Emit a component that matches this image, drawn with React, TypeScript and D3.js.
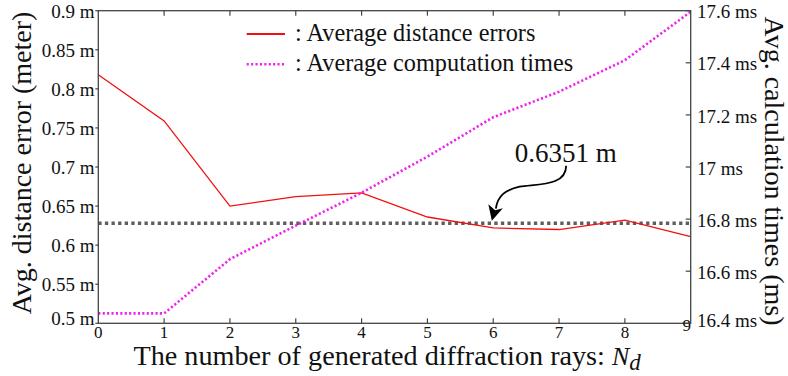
import React from "react";
import * as d3 from "d3";

const raysN = [0, 1, 2, 3, 4, 5, 6, 7, 8, 9];
const distanceErrors = [0.818, 0.759, 0.650, 0.662, 0.667, 0.636, 0.622, 0.620, 0.632, 0.611];
const computationTimes = [16.438, 16.438, 16.646, 16.775, 16.901, 17.04, 17.191, 17.289, 17.41, 17.596];
const referenceError = 0.628;
const referenceLabel = "0.6351 m";
const leftTicks = [0.5, 0.55, 0.6, 0.65, 0.7, 0.75, 0.8, 0.85, 0.9];
const leftTickLabels = ["0.5 m", "0.55 m", "0.6 m", "0.65 m", "0.7 m", "0.75 m", "0.8 m", "0.85 m", "0.9 m"];
const rightTicks = [16.4, 16.6, 16.8, 17.0, 17.2, 17.4, 17.6];
const rightTickLabels = ["16.4 ms", "16.6 ms", "16.8 ms", "17 ms", "17.2 ms", "17.4 ms", "17.6 ms"];
const xTickLabels = ["0", "1", "2", "3", "4", "5", "6", "7", "8", "9"];
const legendLabels = [": Average distance errors", ": Average computation times"];

const W = 788, H = 376;
const L = 98.3, R = 690.7, T = 10.7, B = 323.3;
const FONT = `"Liberation Serif"`;
const AX = "#444";

export default function App() {
  const x = d3.scaleLinear().domain([0, 9]).range([L, R]);
  const yL = d3.scaleLinear().domain([0.5, 0.9]).range([B, T]);
  const yR = d3.scaleLinear().domain([16.4, 17.6]).range([B, T]);

  const errLine = d3.line<number>().x((_, i) => x(raysN[i])).y((d) => yL(d))(distanceErrors) || "";
  const timeLine = d3.line<number>().x((_, i) => x(raysN[i])).y((d) => yR(d))(computationTimes) || "";

  const refY = yL(referenceError);
  const tipX = x(6) - 1.4;
  const tipY = refY - 2.6;
  const textX = x(7.1);
  const textY = tipY - 59;
  const ts = { fontFamily: FONT };

  return (
    <svg width={W} height={H} style={{ position: "absolute", left: 0, top: 0, display: "block", background: "#fff" }}>
      {/* reference line */}
      <line x1={L} x2={R} y1={refY} y2={refY} stroke="#5e5e5e" strokeWidth={3.3} strokeDasharray="3.3,3.3" />
      {/* series */}
      <path d={errLine} fill="none" stroke="#f01010" strokeWidth={1.3} />
      <path d={timeLine} fill="none" stroke="#f020f0" strokeWidth={2.6} strokeDasharray="2.1,2.3" />

      {/* frame */}
      <rect x={L} y={T} width={R - L} height={B - T} fill="none" stroke={AX} strokeWidth={1.3} />

      {/* x ticks */}
      {raysN.map((v, i) => (
        <g key={"xt" + i}>
          {i > 0 && i < 9 && <line x1={x(v)} x2={x(v)} y1={B} y2={B - 5} stroke={AX} strokeWidth={1.2} />}
          {i > 0 && i < 9 && <line x1={x(v)} x2={x(v)} y1={T} y2={T + 5} stroke={AX} strokeWidth={1.2} />}
          <text style={ts} x={i === 9 ? x(v) - 4 : x(v)} y={i === 9 ? 331 : 338} fontSize={17} textAnchor="middle" fill="#111">
            {xTickLabels[i]}
          </text>
        </g>
      ))}

      {/* left ticks */}
      {leftTicks.map((v, i) => (
        <g key={"lt" + i}>
          <line x1={L - 3} x2={L} y1={yL(v)} y2={yL(v)} stroke={AX} strokeWidth={1.2} />
          <text style={ts} x={94.5} y={yL(v) + (i === 0 ? -4.5 : 0.5)} dy="0.35em" fontSize={19} textAnchor="end" fill="#111">
            {leftTickLabels[i]}
          </text>
        </g>
      ))}

      {/* right ticks */}
      {rightTicks.map((v, i) => (
        <g key={"rt" + i}>
          <line x1={R - 5} x2={R} y1={yR(v)} y2={yR(v)} stroke={AX} strokeWidth={1.2} />
          <text style={ts} x={697} y={yR(v) + (i === 0 ? -3 : 1)} dy="0.35em" fontSize={19} textAnchor="start" fill="#111">
            {rightTickLabels[i]}
          </text>
        </g>
      ))}

      {/* axis titles */}
      <text style={ts} transform={`translate(31,${163}) rotate(-90)`} fontSize={28} textAnchor="middle" fill="#111">
        Avg. distance error (meter)
      </text>
      <text style={ts} transform={`translate(765,${171}) rotate(90)`} fontSize={28} textAnchor="middle" fill="#111">
        Avg. calculation times (ms)
      </text>
      <text style={ts} x={133.5} y={364.5} fontSize={28.2} textAnchor="start" fill="#111">
        The number of generated diffraction rays:{" "}
        <tspan fontStyle="italic" fontSize={26}>N</tspan>
        <tspan fontStyle="italic" fontSize={23} dy={5}>d</tspan>
      </text>

      {/* legend */}
      <line x1={246.7} x2={285} y1={34} y2={34} stroke="#f01010" strokeWidth={2} />
      <line x1={246.7} x2={285} y1={64.3} y2={64.3} stroke="#f020f0" strokeWidth={2.6} strokeDasharray="2.1,2.3" />
      <text style={ts} x={295} y={40.5} fontSize={24.3} fill="#111">{legendLabels[0]}</text>
      <text style={ts} x={295} y={71} fontSize={24.3} fill="#111">{legendLabels[1]}</text>

      {/* annotation */}
      <text style={ts} x={textX} y={textY} fontSize={27} textAnchor="middle" fill="#111">{referenceLabel}</text>
      <path
        d={`M${textX + 0.5},${textY + 4} C${textX + 0.5},${textY + 24} ${textX - 26},${textY + 22} ${textX - 46},${textY + 25} C${textX - 60},${textY + 28} ${textX - 68},${textY + 34} ${tipX + 4},${tipY - 12}`}
        fill="none"
        stroke="#000"
        strokeWidth={1.8}
      />
      <path
        d={`M${tipX},${tipY} L${tipX - 3.5},${tipY - 16.5} L${tipX + 3.3},${tipY - 10.5} L${tipX + 11},${tipY - 12.5} Z`}
        fill="#000"
      />
    </svg>
  );
}
